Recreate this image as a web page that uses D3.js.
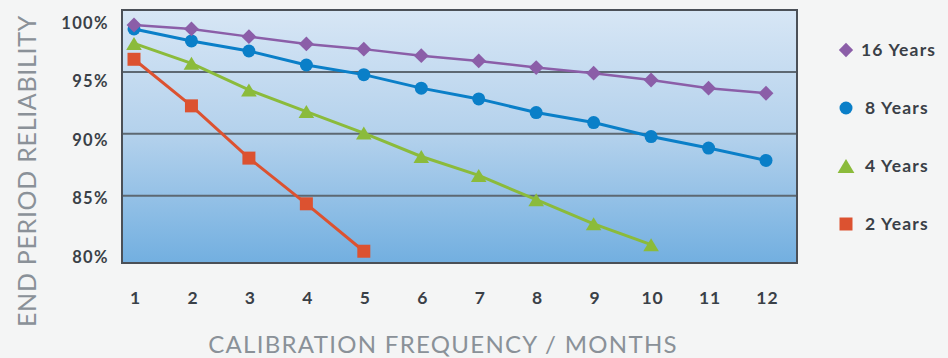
<!DOCTYPE html>
<html><head><meta charset="utf-8">
<script src="https://cdn.jsdelivr.net/npm/d3@7"></script>
<style>
html,body{margin:0;padding:0;background:#f4f5f5;}
svg{display:block;}
</style></head>
<body>
<svg id="chart" width="948" height="358"></svg>
<script>
// ---- data ----
const months = [1,2,3,4,5,6,7,8,9,10,11,12];
const years16 = [98.79,98.47,97.85,97.26,96.84,96.31,95.89,95.35,94.90,94.35,93.69,93.28];
const years8  = [98.47,97.50,96.69,95.56,94.78,93.69,92.82,91.72,90.91,89.78,88.85,87.85];
const years4  = [97.30,95.69,93.55,91.80,90.06,88.17,86.64,84.68,82.73,81.05];
const years2  = [96.02,92.26,88.04,84.35,80.52];
const seriesNames = ["16 Years","8 Years","4 Years","2 Years"];
const yTickValues = [100,95,90,85,80];
const gridValues = [95,90,85];
const xTitle = "CALIBRATION FREQUENCY / MONTHS";
const yTitle = "END PERIOD RELIABILITY";

const colors = ["#8b5ea8","#0a7fc8","#8bbb3b","#dc5230"];
const shapes = ["diamond","circle","triangle","square"];
const seriesValues = [years16, years8, years4, years2];

const svg = d3.select("#chart");
const plot = {left:122, right:797, top:10, bottom:263};

const x = d3.scaleLinear().domain([1,12]).range([134,766]);
const y = d3.scaleLinear().domain([79.57,100]).range([plot.bottom, plot.top]);
const yLab = d3.scaleLinear().domain([80,100]).range([257,23]);

// gradient background
const defs = svg.append("defs");
const grad = defs.append("linearGradient").attr("id","bg").attr("x1",0).attr("y1",0).attr("x2",0).attr("y2",1);
grad.append("stop").attr("offset","0%").attr("stop-color","#d7e6f5");
grad.append("stop").attr("offset","50%").attr("stop-color","#b3d1ec");
grad.append("stop").attr("offset","100%").attr("stop-color","#72afe0");

svg.append("rect").attr("x",plot.left).attr("y",plot.top)
  .attr("width",plot.right-plot.left).attr("height",plot.bottom-plot.top)
  .attr("fill","url(#bg)");

// gridlines
svg.append("g").selectAll("line").data(gridValues).join("line")
  .attr("x1",plot.left).attr("x2",plot.right)
  .attr("y1",d=>y(d)).attr("y2",d=>y(d))
  .attr("stroke","#5d6872").attr("stroke-width",2);

// border
svg.append("rect").attr("x",plot.left).attr("y",plot.top)
  .attr("width",plot.right-plot.left).attr("height",plot.bottom-plot.top)
  .attr("fill","none").attr("stroke","#4b5057").attr("stroke-width",2);

// symbols
function shapePath(kind, s){
  const p = d3.path();
  if(kind==="diamond"){ const h=s*0.55; p.moveTo(0,-h);p.lineTo(h,0);p.lineTo(0,h);p.lineTo(-h,0);p.closePath(); }
  else if(kind==="circle"){ p.arc(0,0,s*0.5,0,2*Math.PI); }
  else if(kind==="triangle"){ const w=s*0.6, h=s*0.5; p.moveTo(0,-h);p.lineTo(w,h);p.lineTo(-w,h);p.closePath(); }
  else { const h=s*0.5; p.rect(-h,-h,2*h,2*h); }
  return p.toString();
}
const markerSize = {diamond:13.5, circle:13, triangle:13, square:13};

const line = d3.line().x(d=>x(d[0])).y(d=>y(d[1]));

seriesValues.slice().reverse().forEach((vals, ri)=>{
  const i = seriesValues.length-1-ri;
  const pts = vals.map((v,j)=>[months[j], v]);
  const g = svg.append("g");
  g.append("path").attr("d", line(pts)).attr("fill","none")
    .attr("stroke", colors[i]).attr("stroke-width", i===0?2.5:3);
  g.selectAll("path.m").data(pts).join("path").attr("class","m")
    .attr("transform", d=>`translate(${x(d[0])},${y(d[1])})`)
    .attr("d", shapePath(shapes[i], markerSize[shapes[i]]))
    .attr("fill", colors[i]);
});

const boldFont = "Lato, sans-serif";

// y tick labels
svg.append("g").selectAll("text").data(yTickValues).join("text")
  .attr("x",109).attr("y",d=>yLab(d)).attr("dy","0.35em")
  .attr("text-anchor","end")
  .attr("font-family",boldFont).attr("font-weight",700).attr("font-size",16.5)
  .attr("letter-spacing","1.4px")
  .attr("fill","#3a4047").text(d=>d+"%");

// x tick labels
svg.append("g").selectAll("text").data(months).join("text")
  .attr("x",d=>x(d)+1.5).attr("y",298).attr("dy","0.35em")
  .attr("text-anchor","middle")
  .attr("font-family",boldFont).attr("font-weight",700).attr("font-size",17.5)
  .attr("letter-spacing","1px")
  .attr("fill","#3a4047").text(d=>d);

// axis titles
svg.append("text").attr("x",443).attr("y",345).attr("dy","0.35em")
  .attr("text-anchor","middle")
  .attr("font-family","Lato, sans-serif").attr("font-weight",400).attr("font-size",24)
  .attr("letter-spacing","1.3px")
  .attr("fill","#8a9198").text(xTitle);

svg.append("text").attr("transform","translate(27,171) rotate(-90)").attr("dy","0.35em")
  .attr("text-anchor","middle")
  .attr("font-family","Lato, sans-serif").attr("font-weight",400).attr("font-size",25)
  .attr("letter-spacing","0.7px")
  .attr("fill","#8a9198").text(yTitle);

// legend
const leg = svg.append("g");
const legY = d3.scalePoint().domain(seriesNames).range([50,224]);
seriesNames.forEach((name,i)=>{
  const g = leg.append("g").attr("transform",`translate(846,${legY(name)})`);
  g.append("path").attr("d", shapePath(shapes[i], shapes[i]==="triangle"?14:13)).attr("fill",colors[i]);
  g.append("text").attr("x", i===0?15:19).attr("y",0).attr("dy","0.35em")
    .attr("font-family",boldFont).attr("font-weight",700).attr("font-size",17.5)
    .attr("letter-spacing","1.2px")
    .attr("fill","#3a4047").text(name);
});
</script>
</body></html>
